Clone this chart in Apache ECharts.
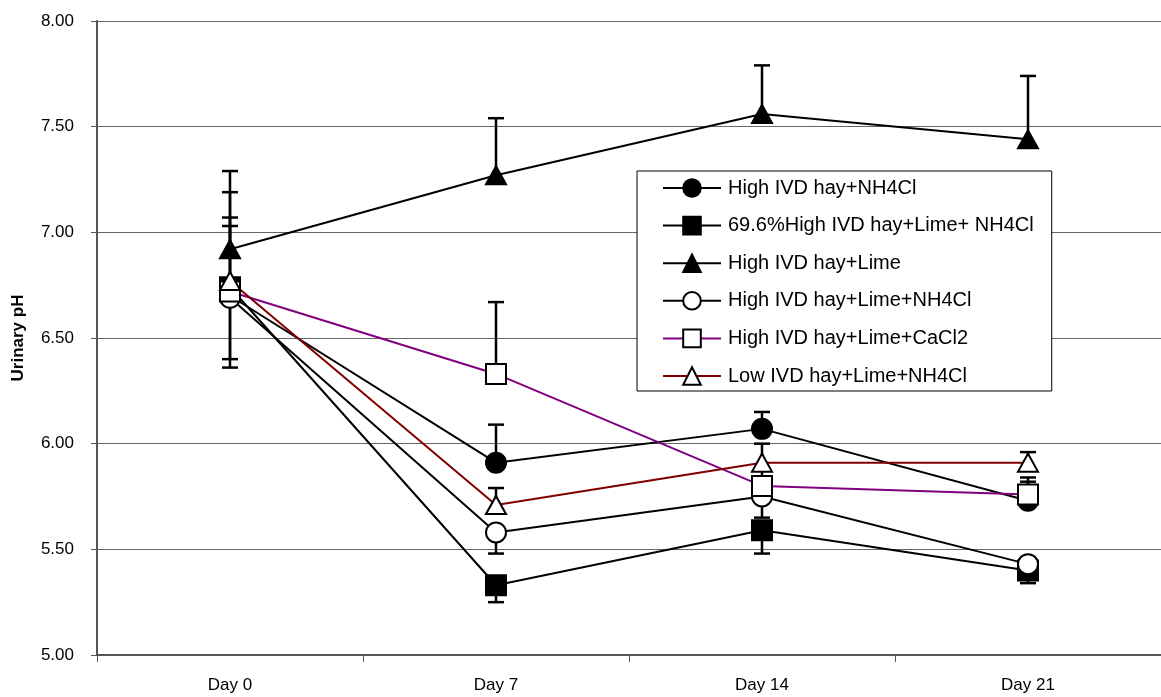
<!DOCTYPE html>
<html>
<head>
<meta charset="utf-8">
<script src="https://cdn.jsdelivr.net/npm/echarts@6/dist/echarts.min.js"></script>
<style>
html,body{margin:0;padding:0;background:#fff;}
#chart{width:1161px;height:697px;}
</style>
</head>
<body>
<div id="chart"></div>
<script>
const categories = ['Day 0', 'Day 7', 'Day 14', 'Day 21'];
const yTicks = ['5.00', '5.50', '6.00', '6.50', '7.00', '7.50', '8.00'];

const seriesNames = [
  'High IVD hay+NH4Cl',
  '69.6%High IVD hay+Lime+ NH4Cl',
  'High IVD hay+Lime',
  'High IVD hay+Lime+NH4Cl',
  'High IVD hay+Lime+CaCl2',
  'Low IVD hay+Lime+NH4Cl'
];

const highNH4Cl       = [6.70, 5.91, 6.07, 5.73];
const high696LimeNH4Cl = [6.74, 5.33, 5.59, 5.40];
const highLime        = [6.92, 7.27, 7.56, 7.44];
const highLimeNH4Cl   = [6.69, 5.58, 5.75, 5.43];
const highLimeCaCl2   = [6.72, 6.33, 5.80, 5.76];
const lowLimeNH4Cl    = [6.77, 5.71, 5.91, 5.91];

// error bar end values (one-sided bars)
const highNH4ClErr       = [7.07, 6.09, 6.15, 5.82];
const high696LimeNH4ClErr = [6.36, 5.25, 5.48, 5.34];
const highLimeErr        = [7.29, 7.54, 7.79, 7.74];
const highLimeNH4ClErr   = [6.40, 5.48, 5.65, 5.38];
const highLimeCaCl2Err   = [7.19, 6.67, 5.88, 5.84];
const lowLimeNH4ClErr    = [7.03, 5.79, 6.00, 5.96];

const values = [highNH4Cl, high696LimeNH4Cl, highLime, highLimeNH4Cl, highLimeCaCl2, lowLimeNH4Cl];
const errs = [highNH4ClErr, high696LimeNH4ClErr, highLimeErr, highLimeNH4ClErr, highLimeCaCl2Err, lowLimeNH4ClErr];

const styles = [
  {symbol: 'circle', size: 20, fill: '#000', line: '#000'},
  {symbol: 'rect', size: 20, fill: '#000', line: '#000'},
  {symbol: 'triangle', size: [20, 18], fill: '#000', line: '#000'},
  {symbol: 'circle', size: 20, fill: '#fff', line: '#000'},
  {symbol: 'rect', size: 20, fill: '#fff', line: '#800080'},
  {symbol: 'triangle', size: [20, 18], fill: '#fff', line: '#800000'}
];

const FONT = "'Liberation Sans', Arial, sans-serif";

const series = [];
// error bars
values.forEach((vals, i) => {
  const data = vals.map((v, k) => [k, v, errs[i][k]]);
  series.push({
    type: 'custom',
    name: 'err' + i,
    z: 1,
    silent: true,
    data: data,
    renderItem: function (params, api) {
      const x = api.value(0);
      const p0 = api.coord([x, api.value(1)]);
      const p1 = api.coord([x, api.value(2)]);
      const hw = 8;
      return {
        type: 'group',
        children: [
          {type: 'line', shape: {x1: p0[0], y1: p0[1], x2: p1[0], y2: p1[1]}, style: {stroke: '#000', lineWidth: 2.5}},
          {type: 'line', shape: {x1: p1[0] - hw, y1: p1[1], x2: p1[0] + hw, y2: p1[1]}, style: {stroke: '#000', lineWidth: 2.5}}
        ]
      };
    }
  });
});
values.forEach((vals, i) => {
  const st = styles[i];
  series.push({
    type: 'line',
    name: seriesNames[i],
    z: 2 + i,
    data: vals,
    symbol: st.symbol,
    symbolSize: st.size,
    showAllSymbol: true,
    lineStyle: {color: st.line, width: 2},
    itemStyle: {color: st.fill, borderColor: '#000', borderWidth: 2},
    emphasis: {disabled: true},
    animation: false
  });
});

const chart = echarts.init(document.getElementById('chart'), null, {renderer: 'canvas'});
chart.setOption({
  animation: false,
  backgroundColor: '#fff',
  textStyle: {fontFamily: FONT},
  grid: {left: 97, right: -2, top: 21, bottom: 42, containLabel: false},
  legend: {
    data: seriesNames,
    orient: 'vertical',
    left: 637,
    top: 171,
    width: 416,
    padding: [7, 18, 5, 25],
    itemWidth: 58,
    itemHeight: 22,
    itemGap: 17.6,
    borderColor: '#000',
    borderWidth: 1,
    backgroundColor: '#fff',
    textStyle: {fontFamily: FONT, fontSize: 20, color: '#000', lineHeight: 20, padding: [0, 0, 0, 2]},
    selectedMode: false
  },
  xAxis: {
    type: 'category',
    data: categories,
    boundaryGap: true,
    axisLine: {lineStyle: {color: '#555', width: 2}},
    axisTick: {show: true, length: 7, lineStyle: {color: '#555', width: 1}},
    axisLabel: {fontFamily: FONT, fontSize: 17, color: '#000', margin: 22},
    splitLine: {show: false}
  },
  yAxis: {
    type: 'value',
    min: 5,
    max: 8,
    interval: 0.5,
    name: 'Urinary pH',
    nameLocation: 'middle',
    nameRotate: 90,
    nameGap: 70,
    nameTextStyle: {fontFamily: FONT, fontSize: 17, fontWeight: 'bold', color: '#000'},
    axisLine: {show: true, lineStyle: {color: '#555', width: 2}},
    axisTick: {show: true, length: 6, lineStyle: {color: '#555', width: 1}},
    axisLabel: {
      fontFamily: FONT, fontSize: 17, color: '#000', margin: 23,
      formatter: function (v) { const idx = Math.round((v - 5) / 0.5); return yTicks[idx]; }
    },
    splitLine: {show: true, lineStyle: {color: '#666', width: 1}}
  },
  series: series
});
</script>
</body>
</html>
